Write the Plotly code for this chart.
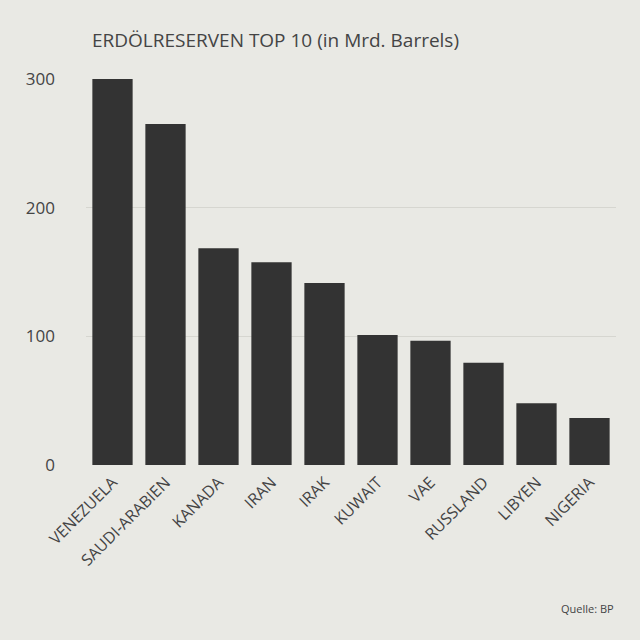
import plotly.graph_objects as go

countries = ["VENEZUELA", "SAUDI-ARABIEN", "KANADA", "IRAN", "IRAK",
             "KUWAIT", "VAE", "RUSSLAND", "LIBYEN", "NIGERIA"]
reserves = [300, 265, 168.5, 157.5, 141.5, 101, 96.5, 79.5, 48, 36.5]

bg = "#e9e9e4"

fig = go.Figure(go.Bar(x=countries, y=reserves, marker_color="#333333",
                       marker_line_width=0, width=0.76))

fig.update_layout(
    width=640, height=640,
    paper_bgcolor=bg, plot_bgcolor=bg,
    font=dict(family="Open Sans", color="#444444"),
    margin=dict(l=86, r=24, t=79, b=175),
    showlegend=False,
    title=dict(text="ERDÖLRESERVEN TOP 10 (in Mrd. Barrels)", x=92 / 640, xanchor="left",
               y=1 - 40 / 640, yanchor="middle", font=dict(size=19, color="#444444")),
    annotations=[dict(text="Quelle: BP", x=1, xref="paper", xanchor="right",
                      y=-143 / 386, yref="paper", yanchor="middle",
                      showarrow=False, font=dict(size=11, color="#444444"))],
)
fig.update_xaxes(tickangle=-45, tickfont=dict(size=16), showgrid=False,
                 showline=False, ticks="", ticklabelstandoff=4)
fig.update_yaxes(range=[0, 300], tickvals=[0, 100, 200, 300], tickfont=dict(size=17),
                 showgrid=True, gridcolor="#d6d6d0", gridwidth=1, zeroline=False,
                 ticklabelstandoff=30)

fig.write_html("out.html", config={"displayModeBar": False},
               post_script="document.body.style.margin='0';")
